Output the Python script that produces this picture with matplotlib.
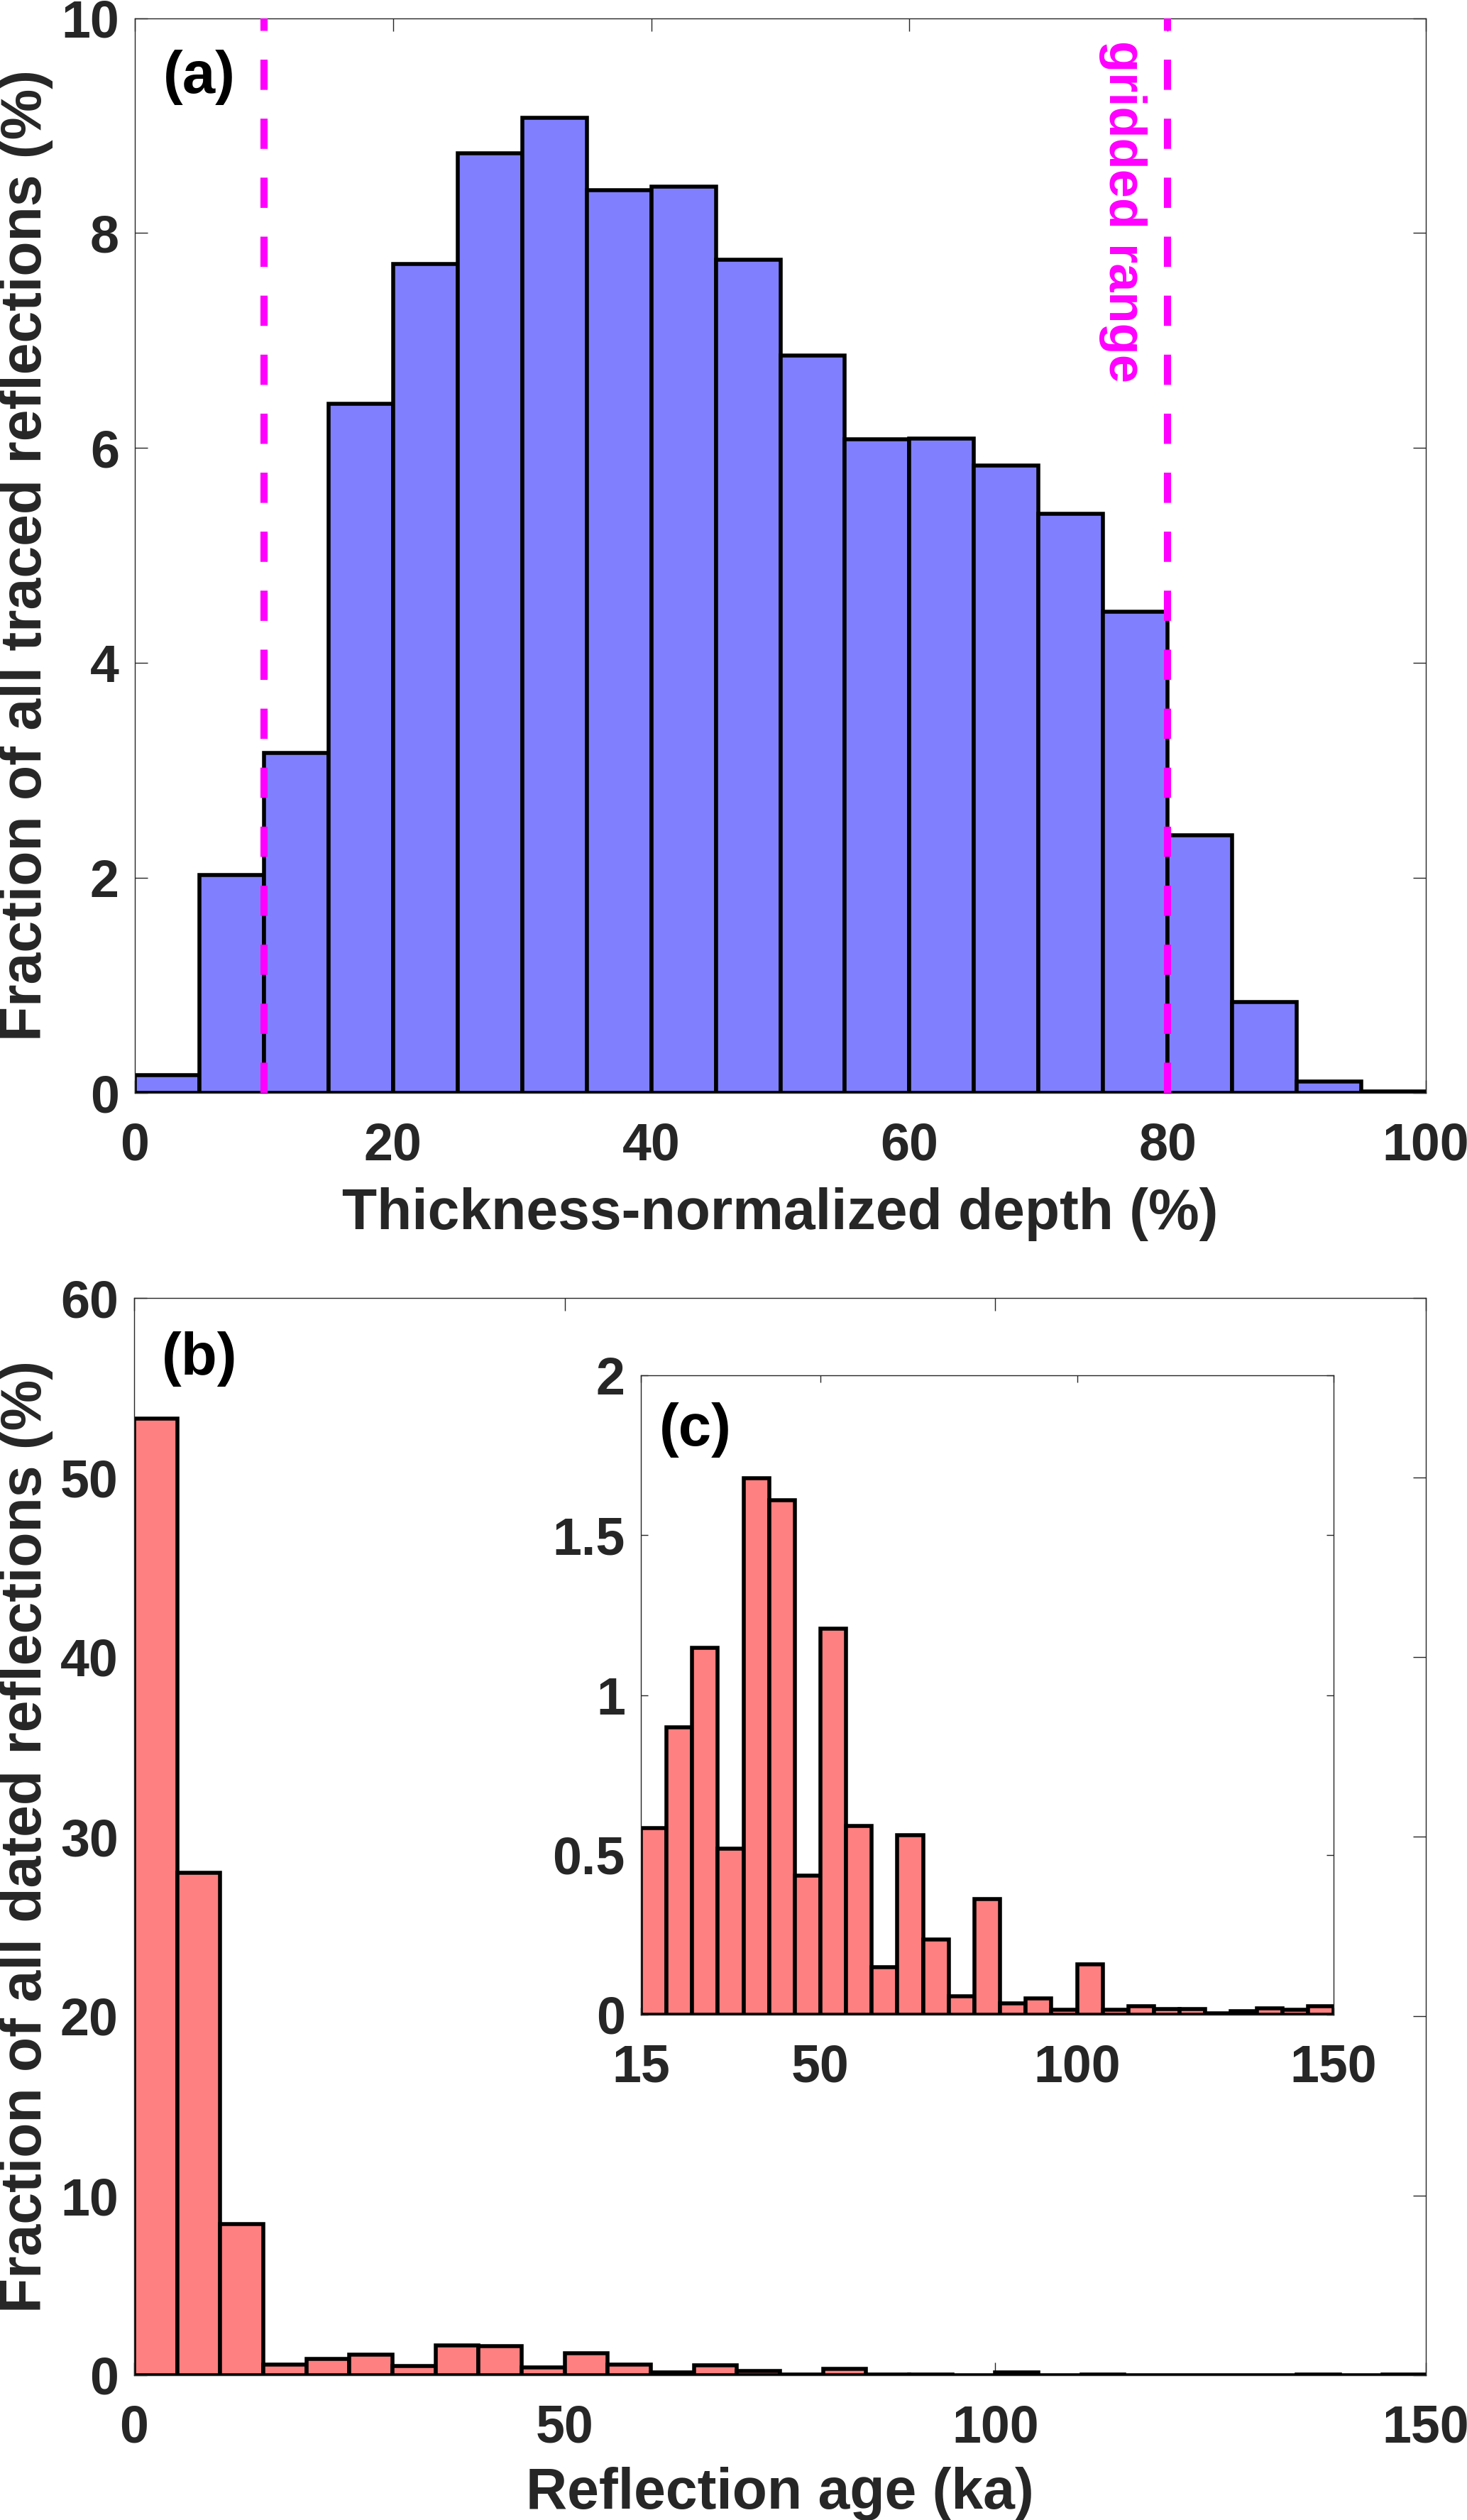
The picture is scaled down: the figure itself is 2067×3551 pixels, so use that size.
import matplotlib
matplotlib.use('Agg')
import matplotlib.pyplot as plt

# ---------------- data ----------------
depth_bin_left = [0, 5, 10, 15, 20, 25, 30, 35, 40, 45, 50, 55, 60, 65, 70, 75, 80, 85, 90, 95]
depth_frac = [0.165, 2.03, 3.16, 6.41, 7.71, 8.74, 9.07, 8.40, 8.43, 7.75,
              6.86, 6.08, 6.09, 5.84, 5.39, 4.48, 2.40, 0.844, 0.107, 0.01]
gridded_range = [10, 80]

age_bin_left = [0, 5, 10, 15, 20, 25, 30, 35, 40, 45, 50, 55, 60, 65, 70, 75, 80, 85,
                90, 95, 100, 105, 110, 115, 120, 125, 130, 135, 140, 145]
age_frac = [53.3, 28.0, 8.42, 0.583, 0.900, 1.147, 0.520, 1.678, 1.610, 0.436,
            1.208, 0.591, 0.149, 0.561, 0.236, 0.057, 0.361, 0.036, 0.052, 0.016,
            0.157, 0.016, 0.027, 0.017, 0.017, 0.005, 0.010, 0.020, 0.015, 0.027]

bin_width = 5
inset_min_age = 15

xticks_a = [0, 20, 40, 60, 80, 100]
yticks_a = [0, 2, 4, 6, 8, 10]
xticks_b = [0, 50, 100, 150]
yticks_b = [0, 10, 20, 30, 40, 50, 60]
xticks_c = [15, 50, 100, 150]
yticks_c = [0, 0.5, 1, 1.5, 2]
ytick_labels_c = ['0', '0.5', '1', '1.5', '2']

# ---------------- style ----------------
plt.rcParams['font.family'] = ['Liberation Sans', 'DejaVu Sans']
plt.rcParams['font.weight'] = 'bold'
plt.rcParams['axes.labelweight'] = 'bold'
TXT = '#262626'
BLUE = '#8080FF'
RED = '#FF8080'
MAG = '#FF00FF'
TICK_FS = 53
LABEL_FS = 58
LETTER_FS = 60
BAR_LW = 4.0

W, H = 2067, 3551
fig = plt.figure(figsize=(W / 100, H / 100), dpi=100)


def rect(l, r, t, b):
    return [l / W, (H - b) / H, (r - l) / W, (b - t) / H]


def style_axes(ax, ticklen):
    for s in ax.spines.values():
        s.set_color(TXT)
        s.set_linewidth(1.0)
    ax.tick_params(direction='in', length=ticklen, width=1.0, colors=TXT,
                   top=True, right=True, labelsize=TICK_FS)
    ax.tick_params(axis='x', pad=29)
    ax.tick_params(axis='y', pad=16)


# ---------------- panel (a) ----------------
ax1 = fig.add_axes(rect(190, 2009, 25.6, 1540))
ax1.bar(depth_bin_left, depth_frac, width=bin_width, align='edge', color=BLUE,
        edgecolor='black', linewidth=BAR_LW, zorder=2)
for g in gridded_range:
    ax1.plot([g, g], [0, 10], color=MAG, lw=7.3, dashes=(4.2, 4.0), zorder=3)
ax1.set_xlim(0, 100)
ax1.set_ylim(0, 10)
ax1.set_xticks(xticks_a)
ax1.set_yticks(yticks_a)
style_axes(ax1, 13)
ax1.set_xlabel('Thickness-normalized depth (%)', fontsize=LABEL_FS, color=TXT,
               fontweight='bold')
ax1.xaxis.label.set_va('baseline')
ax1.xaxis.set_label_coords(0.5, -0.1268)
ax1.set_ylabel('Fraction of all traced reflections (%)', fontsize=LABEL_FS,
               color=TXT, fontweight='bold')
ax1.yaxis.label.set_va('center')
ax1.yaxis.set_label_coords(-0.0841, 0.5)
ax1.text(2.2, 9.45, '(a)', fontsize=LETTER_FS, fontweight='bold', color='black',
         ha='left', va='center')
ax1.text(76.5, 9.79, 'gridded range', fontsize=52, fontweight='bold', color=MAG,
         rotation=-90, ha='center', va='top')

# ---------------- panel (b) ----------------
ax2 = fig.add_axes(rect(189, 2009, 1829, 3347))
ax2.bar(age_bin_left, age_frac, width=bin_width, align='edge', color=RED,
        edgecolor='black', linewidth=BAR_LW, zorder=2)
ax2.set_xlim(0, 150)
ax2.set_ylim(0, 60)
ax2.set_xticks(xticks_b)
ax2.set_yticks(yticks_b)
style_axes(ax2, 13)
ax2.set_xlabel('Reflection age (ka)', fontsize=LABEL_FS, color=TXT,
               fontweight='bold')
ax2.xaxis.label.set_va('baseline')
ax2.xaxis.set_label_coords(0.5, -0.1238)
ax2.set_ylabel('Fraction of all dated reflections (%)', fontsize=LABEL_FS,
               color=TXT, fontweight='bold')
ax2.yaxis.label.set_va('center')
ax2.yaxis.set_label_coords(-0.0836, 0.5)
ax2.text(3.2, 56.6, '(b)', fontsize=LETTER_FS, fontweight='bold', color='black',
         ha='left', va='center')

# ---------------- inset (c) ----------------
ax3 = fig.add_axes(rect(903, 1879, 1938, 2839))
sel = [i for i, a in enumerate(age_bin_left) if a >= inset_min_age]
ax3.bar([age_bin_left[i] for i in sel], [age_frac[i] for i in sel],
        width=bin_width, align='edge', color=RED, edgecolor='black',
        linewidth=BAR_LW, zorder=2)
ax3.set_xlim(15, 150)
ax3.set_ylim(0, 2)
ax3.set_xticks(xticks_c)
ax3.set_yticks(yticks_c)
ax3.set_yticklabels(ytick_labels_c)
style_axes(ax3, 7)
ax3.text(18.6, 1.83, '(c)', fontsize=LETTER_FS, fontweight='bold', color='black',
         ha='left', va='center')

fig.savefig('out.png', dpi=100)
